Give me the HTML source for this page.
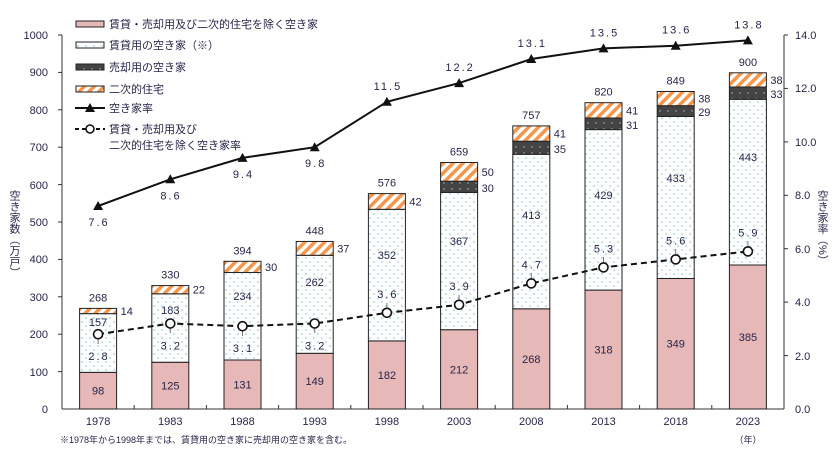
<!DOCTYPE html>
<html><head><meta charset="utf-8"><style>
html,body{margin:0;padding:0;background:#fff;}
svg text{font-family:"Liberation Sans","Noto Sans CJK JP",sans-serif;fill:#26264a;font-size:11px;}
</style></head><body>
<svg width="837" height="450" viewBox="0 0 837 450" xmlns="http://www.w3.org/2000/svg">
<defs>
<pattern id="dots" width="8" height="8" patternUnits="userSpaceOnUse"><rect width="8" height="8" fill="#fff"/><circle cx="2" cy="2" r="0.8" fill="#7cc4d8"/><circle cx="6" cy="6" r="0.8" fill="#7cc4d8"/></pattern>
<pattern id="dark" width="8" height="6" patternUnits="userSpaceOnUse"><rect width="8" height="6" fill="#444"/><circle cx="4" cy="3" r="0.7" fill="#bbb"/></pattern>
<pattern id="hatch" width="7" height="7" patternUnits="userSpaceOnUse" patternTransform="rotate(45)"><rect width="7" height="7" fill="#fff"/><rect width="3.5" height="7" fill="#f7964a"/></pattern>
</defs>
<!-- axes -->
<line x1="62" y1="35" x2="62" y2="409" stroke="#333"/>
<line x1="784" y1="35" x2="784" y2="409" stroke="#333"/>
<line x1="62" y1="409" x2="784" y2="409" stroke="#333"/>
<g stroke="#333">
<line x1="58" y1="35" x2="62" y2="35"/><line x1="58" y1="72.4" x2="62" y2="72.4"/><line x1="58" y1="109.8" x2="62" y2="109.8"/><line x1="58" y1="147.2" x2="62" y2="147.2"/><line x1="58" y1="184.6" x2="62" y2="184.6"/><line x1="58" y1="222" x2="62" y2="222"/><line x1="58" y1="259.4" x2="62" y2="259.4"/><line x1="58" y1="296.8" x2="62" y2="296.8"/><line x1="58" y1="334.2" x2="62" y2="334.2"/><line x1="58" y1="371.6" x2="62" y2="371.6"/>
<line x1="784" y1="35" x2="788" y2="35"/><line x1="784" y1="88.4" x2="788" y2="88.4"/><line x1="784" y1="141.9" x2="788" y2="141.9"/><line x1="784" y1="195.3" x2="788" y2="195.3"/><line x1="784" y1="248.7" x2="788" y2="248.7"/><line x1="784" y1="302.1" x2="788" y2="302.1"/><line x1="784" y1="355.6" x2="788" y2="355.6"/>
<line x1="134.2" y1="405" x2="134.2" y2="409"/><line x1="206.4" y1="405" x2="206.4" y2="409"/><line x1="278.6" y1="405" x2="278.6" y2="409"/><line x1="350.8" y1="405" x2="350.8" y2="409"/><line x1="423" y1="405" x2="423" y2="409"/><line x1="495.2" y1="405" x2="495.2" y2="409"/><line x1="567.4" y1="405" x2="567.4" y2="409"/><line x1="639.6" y1="405" x2="639.6" y2="409"/><line x1="711.8" y1="405" x2="711.8" y2="409"/>
</g>
<g text-anchor="end">
<text x="48" y="39">1000</text><text x="48" y="76">900</text><text x="48" y="114">800</text><text x="48" y="151">700</text><text x="48" y="189">600</text><text x="48" y="226">500</text><text x="48" y="263">400</text><text x="48" y="301">300</text><text x="48" y="338">200</text><text x="48" y="376">100</text><text x="48" y="413">0</text>
</g>
<g>
<text x="795" y="39">14.0</text><text x="795" y="92">12.0</text><text x="795" y="146">10.0</text><text x="795" y="199">8.0</text><text x="795" y="253">6.0</text><text x="795" y="306">4.0</text><text x="795" y="360">2.0</text><text x="795" y="413">0.0</text>
</g>
<text x="14" y="190" style="writing-mode:vertical-rl;font-size:11px">空き家数（万戸）</text>
<text x="822" y="190" style="writing-mode:vertical-rl;font-size:11px">空き家率（%）</text>
<text x="60" y="443" style="font-size:9px">※1978年から1998年までは、賃貸用の空き家に売却用の空き家を含む。</text>
<text x="748" y="443" text-anchor="middle" style="font-size:9px">（年）</text>

<!-- bars -->
<g stroke="#222" stroke-width="1">
<rect x="79.6" y="372.35" width="37" height="36.65" fill="#e6b8b7"/><rect x="79.6" y="313.63" width="37" height="58.72" fill="url(#dots)"/><rect x="79.6" y="308.39" width="37" height="5.24" fill="url(#hatch)"/>
<rect x="151.8" y="362.25" width="37" height="46.75" fill="#e6b8b7"/><rect x="151.8" y="293.8" width="37" height="68.45" fill="url(#dots)"/><rect x="151.8" y="285.58" width="37" height="8.22" fill="url(#hatch)"/>
<rect x="224" y="360" width="37" height="49" fill="#e6b8b7"/><rect x="224" y="272.5" width="37" height="87.5" fill="url(#dots)"/><rect x="224" y="261.3" width="37" height="11.2" fill="url(#hatch)"/>
<rect x="296.2" y="353.3" width="37" height="55.7" fill="#e6b8b7"/><rect x="296.2" y="255.3" width="37" height="98" fill="url(#dots)"/><rect x="296.2" y="241.45" width="37" height="13.85" fill="url(#hatch)"/>
<rect x="368.4" y="340.9" width="37" height="68.1" fill="#e6b8b7"/><rect x="368.4" y="209.3" width="37" height="131.6" fill="url(#dots)"/><rect x="368.4" y="193.6" width="37" height="15.7" fill="url(#hatch)"/>
<rect x="440.6" y="329.7" width="37" height="79.3" fill="#e6b8b7"/><rect x="440.6" y="192.45" width="37" height="137.25" fill="url(#dots)"/><rect x="440.6" y="181.2" width="37" height="11.25" fill="url(#dark)"/><rect x="440.6" y="162.5" width="37" height="18.7" fill="url(#hatch)"/>
<rect x="512.8" y="308.8" width="37" height="100.2" fill="#e6b8b7"/><rect x="512.8" y="154.3" width="37" height="154.5" fill="url(#dots)"/><rect x="512.8" y="141.2" width="37" height="13.1" fill="url(#dark)"/><rect x="512.8" y="125.9" width="37" height="15.3" fill="url(#hatch)"/>
<rect x="585" y="290.1" width="37" height="118.9" fill="#e6b8b7"/><rect x="585" y="129.6" width="37" height="160.5" fill="url(#dots)"/><rect x="585" y="118" width="37" height="11.6" fill="url(#dark)"/><rect x="585" y="102.7" width="37" height="15.3" fill="url(#hatch)"/>
<rect x="657.2" y="278.5" width="37" height="130.5" fill="#e6b8b7"/><rect x="657.2" y="116.5" width="37" height="162" fill="url(#dots)"/><rect x="657.2" y="105.7" width="37" height="10.8" fill="url(#dark)"/><rect x="657.2" y="91.5" width="37" height="14.2" fill="url(#hatch)"/>
<rect x="729.4" y="265" width="37" height="144" fill="#e6b8b7"/><rect x="729.4" y="99.3" width="37" height="165.7" fill="url(#dots)"/><rect x="729.4" y="87" width="37" height="12.3" fill="url(#dark)"/><rect x="729.4" y="72.8" width="37" height="14.2" fill="url(#hatch)"/>
</g>
<!-- bar labels -->
<g text-anchor="middle">
<text x="98.1" y="394.7">98</text><text x="98.1" y="326">157</text><text x="98.1" y="301.4">268</text>
<text x="170.3" y="389.6">125</text><text x="170.3" y="314">183</text><text x="170.3" y="278.6">330</text>
<text x="242.5" y="388.5">131</text><text x="242.5" y="300">234</text><text x="242.5" y="254.3">394</text>
<text x="314.7" y="385">149</text><text x="314.7" y="286">262</text><text x="314.7" y="234.5">448</text>
<text x="386.9" y="379">182</text><text x="386.9" y="259">352</text><text x="386.9" y="186.6">576</text>
<text x="459.1" y="373.4">212</text><text x="459.1" y="245">367</text><text x="459.1" y="155.5">659</text>
<text x="531.3" y="363">268</text><text x="531.3" y="219">413</text><text x="531.3" y="118.9">757</text>
<text x="603.5" y="353.5">318</text><text x="603.5" y="199">429</text><text x="603.5" y="95.7">820</text>
<text x="675.7" y="347.7">349</text><text x="675.7" y="182">433</text><text x="675.7" y="84.5">849</text>
<text x="747.9" y="341">385</text><text x="747.9" y="161">443</text><text x="747.9" y="65.8">900</text>
</g>
<g>
<text x="120.6" y="315">14</text><text x="192.8" y="293.7">22</text><text x="265" y="270.9">30</text><text x="337.2" y="252.4">37</text><text x="409.4" y="205.4">42</text>
<text x="481.6" y="176">50</text><text x="481.6" y="191.8">30</text>
<text x="553.8" y="137.6">41</text><text x="553.8" y="152.8">35</text>
<text x="626" y="114.4">41</text><text x="626" y="128.8">31</text>
<text x="698.2" y="102.6">38</text><text x="698.2" y="116.1">29</text>
<text x="770.4" y="83.9">38</text><text x="770.4" y="98.2">33</text>
</g>
<g text-anchor="middle" style="font-size:10px">
<text x="98.1" y="425">1978</text><text x="170.3" y="425">1983</text><text x="242.5" y="425">1988</text><text x="314.7" y="425">1993</text><text x="386.9" y="425">1998</text><text x="459.1" y="425">2003</text><text x="531.3" y="425">2008</text><text x="603.5" y="425">2013</text><text x="675.7" y="425">2018</text><text x="747.9" y="425">2023</text>
</g>
<!-- lines -->
<polyline points="98.1,334.2 170.3,323.5 242.5,326.2 314.7,323.5 386.9,312.8 459.1,304.8 531.3,283.4 603.5,267.4 675.7,259.4 747.9,251.4" fill="none" stroke="#111" stroke-width="2" stroke-dasharray="6,4"/>
<polyline points="98.1,206 170.3,179.3 242.5,157.9 314.7,147.2 386.9,101.8 459.1,83.1 531.3,59 603.5,48.4 675.7,45.7 747.9,40.4" fill="none" stroke="#111" stroke-width="2"/>
<g fill="#111">
<path d="M93.1,210 L103.1,210 L98.1,201Z"/><path d="M165.3,183.3 L175.3,183.3 L170.3,174.3Z"/><path d="M237.5,161.9 L247.5,161.9 L242.5,152.9Z"/><path d="M309.7,151.2 L319.7,151.2 L314.7,142.2Z"/><path d="M381.9,105.8 L391.9,105.8 L386.9,96.8Z"/><path d="M454.1,87.1 L464.1,87.1 L459.1,78.1Z"/><path d="M526.3,63 L536.3,63 L531.3,54Z"/><path d="M598.5,52.4 L608.5,52.4 L603.5,43.4Z"/><path d="M670.7,49.7 L680.7,49.7 L675.7,40.7Z"/><path d="M742.9,44.4 L752.9,44.4 L747.9,35.4Z"/>
</g>
<g text-anchor="middle" letter-spacing="2">
<text x="99" y="226">7.6</text><text x="171" y="199.3">8.6</text><text x="243.5" y="177.9">9.4</text><text x="315.7" y="167.2">9.8</text><text x="387.9" y="89.8">11.5</text><text x="460.1" y="71.1">12.2</text><text x="532.3" y="47">13.1</text><text x="604.5" y="36.4">13.5</text><text x="676.7" y="33.7">13.6</text><text x="748.9" y="28.4">13.8</text>
</g>
<g stroke="#777">
<line x1="98.1" y1="334.2" x2="98.1" y2="344"/><line x1="170.3" y1="323.5" x2="170.3" y2="333"/><line x1="242.5" y1="326.2" x2="242.5" y2="336"/><line x1="314.7" y1="323.5" x2="314.7" y2="333"/>
<line x1="386.9" y1="312.8" x2="386.9" y2="303"/><line x1="459.1" y1="304.8" x2="459.1" y2="295"/><line x1="531.3" y1="283.4" x2="531.3" y2="273"/><line x1="603.5" y1="267.4" x2="603.5" y2="257"/><line x1="675.7" y1="259.4" x2="675.7" y2="249"/><line x1="747.9" y1="251.4" x2="747.9" y2="241"/>
</g>
<g fill="#fff" stroke="#111" stroke-width="1.6">
<circle cx="98.1" cy="334.2" r="4.5"/><circle cx="170.3" cy="323.5" r="4.5"/><circle cx="242.5" cy="326.2" r="4.5"/><circle cx="314.7" cy="323.5" r="4.5"/><circle cx="386.9" cy="312.8" r="4.5"/><circle cx="459.1" cy="304.8" r="4.5"/><circle cx="531.3" cy="283.4" r="4.5"/><circle cx="603.5" cy="267.4" r="4.5"/><circle cx="675.7" cy="259.4" r="4.5"/><circle cx="747.9" cy="251.4" r="4.5"/>
</g>
<g text-anchor="middle" letter-spacing="2">
<text x="99" y="360">2.8</text><text x="171.3" y="349.5">3.2</text><text x="243.5" y="352.2">3.1</text><text x="315.7" y="349.5">3.2</text><text x="387.9" y="298">3.6</text><text x="460.1" y="290">3.9</text><text x="532.3" y="268.4">4.7</text><text x="604.5" y="252.4">5.3</text><text x="676.7" y="244.4">5.6</text><text x="748.9" y="236.4">5.9</text>
</g>
<!-- legend -->
<g font-size="11">
<rect x="76" y="21" width="28" height="6" fill="#e6b8b7" stroke="#222"/><text x="109" y="28">賃貸・売却用及び二次的住宅を除く空き家</text>
<rect x="76" y="42" width="28" height="6" fill="url(#dots)" stroke="#222"/><text x="109" y="49">賃貸用の空き家（※）</text>
<rect x="76" y="64" width="28" height="6" fill="url(#dark)" stroke="#222"/><text x="109" y="71">売却用の空き家</text>
<rect x="76" y="86" width="28" height="6" fill="url(#hatch)" stroke="#222"/><text x="109" y="93">二次的住宅</text>
<line x1="75" y1="108" x2="105" y2="108" stroke="#111" stroke-width="2"/><path d="M85,112 L95,112 L90,103Z" fill="#111"/><text x="109" y="112">空き家率</text>
<line x1="75" y1="129" x2="105" y2="129" stroke="#111" stroke-width="2" stroke-dasharray="4,3"/><circle cx="90" cy="129" r="4" fill="#fff" stroke="#111" stroke-width="1.5"/><text x="109" y="133">賃貸・売却用及び</text><text x="109" y="149">二次的住宅を除く空き家率</text>
</g>
</svg>
</body></html>
